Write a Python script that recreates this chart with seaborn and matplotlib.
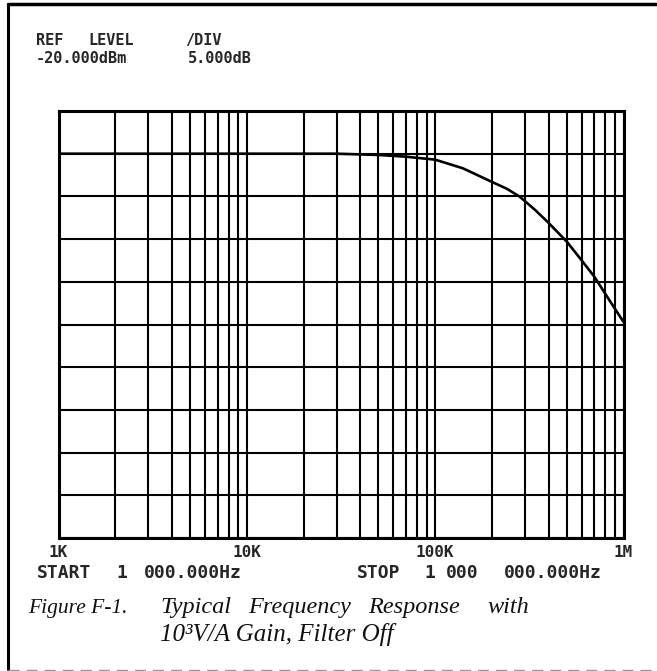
import numpy as np
import pandas as pd
import matplotlib.pyplot as plt
import seaborn as sns
from matplotlib.lines import Line2D

# Trace values (Hz, dBm)
freq_hz = [1e3, 1e4, 3e4, 5e4, 7e4, 1e5, 1.4e5, 2e5, 2.4e5, 2.8e5, 3.4e5,
           4e5, 5e5, 6e5, 7e5, 8.5e5, 1e6]
level_dbm = [-25.0, -25.0, -25.0, -25.15, -25.35, -25.7, -26.7, -28.3, -29.1,
             -30.0, -31.6, -33.1, -35.3, -37.5, -39.4, -42.3, -44.7]

tick_freqs = [1e3, 1e4, 1e5, 1e6]
tick_labels = ['1K', '10K', '100K', '1M']

ref_level = -20
db_per_div = 5
n_div = 10

W, H = 657, 671
MONO = 'DejaVu Sans Mono'
SERIF = 'Liberation Serif'


def px(x, y):
    """Pixel position (from top-left) to figure fraction."""
    return x / W, 1 - y / H


def screen_words(fig, y, words, size=11):
    # plotter style text, one word at a time so spacing follows the screen
    for s, x in words:
        fx, fy = px(x, y)
        fig.text(fx, fy, s, family=MONO, weight='bold', fontsize=size,
                 va='baseline', ha='left')


def caption_words(fig, y, words, size=17.5):
    for s, x in words:
        fx, fy = px(x, y)
        fig.text(fx, fy, s, family=SERIF, style='italic', fontsize=size,
                 va='baseline', ha='left', color='#111111')


sns.set_style('white')
fig = plt.figure(figsize=(W / 100, H / 100), dpi=100)
ax = fig.add_axes([58.5 / W, 1 - 538 / H, 565 / W, 427 / H])

df = pd.DataFrame({'freq': freq_hz, 'level': level_dbm})
sns.lineplot(data=df, x='freq', y='level', ax=ax, color='black', lw=1.9,
             zorder=5)

ax.set_xscale('log')
ax.set_xlim(1e3, 1e6)
ax.set_ylim(ref_level - n_div * db_per_div, ref_level)
ax.set_yticks(np.arange(ref_level - n_div * db_per_div, ref_level + 1, db_per_div))
ax.set_yticklabels([])
minor = [m * d for d in (1e3, 1e4, 1e5) for m in range(2, 10)]
ax.set_xticks(minor, minor=True)
ax.set_xticklabels([], minor=True)
ax.set_xticks(tick_freqs)
ax.set_xticklabels(tick_labels, family=MONO, weight='bold', fontsize=11.5)
ax.tick_params(axis='both', which='both', length=0)
ax.tick_params(axis='x', pad=5)
ax.grid(True, which='both', axis='x', color='black', lw=1.5)
ax.grid(True, which='major', axis='y', color='black', lw=1.5)
ax.set_xlabel('')
ax.set_ylabel('')
for sp in ax.spines.values():
    sp.set_color('black')
    sp.set_linewidth(2.2)

# instrument annotations
screen_words(fig, 45, [('REF', 36), ('LEVEL', 88), ('/DIV', 185)])
screen_words(fig, 63, [('-20.000dBm', 36), ('5.000dB', 188)])
screen_words(fig, 578, [('START', 37), ('1', 116), ('000.000Hz', 144),
                        ('STOP', 357), ('1', 424), ('000', 446),
                        ('000.000Hz', 504)], size=13)

# caption
caption_words(fig, 613, [('Figure F-1.', 28)], size=15.5)
caption_words(fig, 613, [('Typical', 160), ('Frequency', 248),
                         ('Response', 368), ('with', 487)])
caption_words(fig, 641, [('10³V/A Gain, Filter Off', 160)], size=18)

# page frame
fig.add_artist(Line2D([8 / W, 1], [1 - 4 / H] * 2, transform=fig.transFigure,
                      color='black', lw=2.5))
fig.add_artist(Line2D([8 / W] * 2, [1 - 4 / H, 1 - 669 / H],
                      transform=fig.transFigure, color='black', lw=2.2))
fig.add_artist(Line2D([8 / W, 1], [1 - 669.5 / H] * 2, transform=fig.transFigure,
                      color='#999999', lw=1.0, ls=(0, (8, 5))))

fig.savefig('out.png', dpi=100)
